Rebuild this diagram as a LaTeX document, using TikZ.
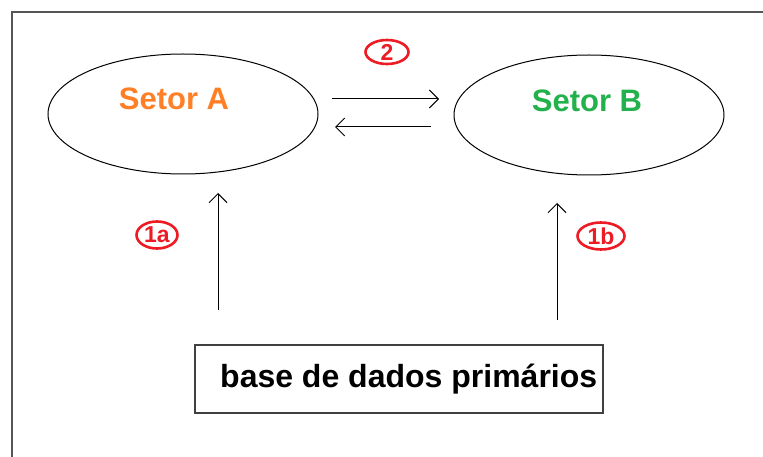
\documentclass[tikz,border=0pt]{standalone}
\usepackage{fontspec}
\setmainfont{Liberation Sans}
\usetikzlibrary{shapes.geometric,arrows.meta}
\definecolor{sorange}{HTML}{FF7F27}
\definecolor{sgreen}{HTML}{22B14C}
\definecolor{sred}{HTML}{ED1C24}
\definecolor{framegray}{HTML}{555555}
\tikzset{
  sector/.style={draw=black, line width=1pt, ellipse, inner sep=0pt},
  sectortext/.style={font=\fontsize{31}{31}\selectfont\bfseries, anchor=base, inner sep=0pt},
  tag/.style={draw=sred, line width=2.6pt, ellipse, text=sred, inner sep=0pt,
              font=\fontsize{23}{23}\selectfont\bfseries},
  flow/.style={line width=1pt, -{Straight Barb[length=9pt,width=18pt,line width=1pt]}},
  basebox/.style={draw=black!75, line width=1.2pt, rectangle, inner sep=0pt},
}
\begin{document}
\begin{tikzpicture}[x=1pt,y=-1pt]
\useasboundingbox (0,0) rectangle (763,457);
% frame
\draw[framegray, line width=1.8pt] (12,457) -- (12,12) -- (763,12);
% sectors
\node[sector, minimum width=270, minimum height=120] (A) at (183,114) {};
\node[sector, minimum width=270, minimum height=120] (B) at (589,115) {};
\node[sectortext, text=sorange] (tA) at (174,110) {Setor A};
\node[sectortext, text=sgreen] (tB) at (587,112) {Setor B};
% base box
\node[basebox, minimum width=408, minimum height=68] (base) at (399,379) {};
\node[font=\fontsize{32}{32}\selectfont\bfseries, anchor=base west, inner sep=0pt] (tbase) at (220,387) {base de dados primários};
% arrows between sectors
\coordinate (r1) at (332,99);
\coordinate (r2) at (439,99);
\coordinate (l1) at (431,127);
\coordinate (l2) at (335,127);
\draw[flow] (r1) -- (r2);
\draw[flow] (l1) -- (l2);
% vertical arrows
\coordinate (a1) at (218,310);
\coordinate (a2) at (218,193);
\coordinate (b1) at (557,320);
\coordinate (b2) at (557,203);
\draw[flow] (a1) -- (a2);
\draw[flow] (b1) -- (b2);
% tags
\node[tag, minimum width=43, minimum height=24] (t2) at (387,52) {2};
\node[tag, minimum width=41, minimum height=27] (t1a) at (157,235) {1a};
\node[tag, minimum width=47, minimum height=27] (t1b) at (601,236) {1b};
\end{tikzpicture}
\end{document}
